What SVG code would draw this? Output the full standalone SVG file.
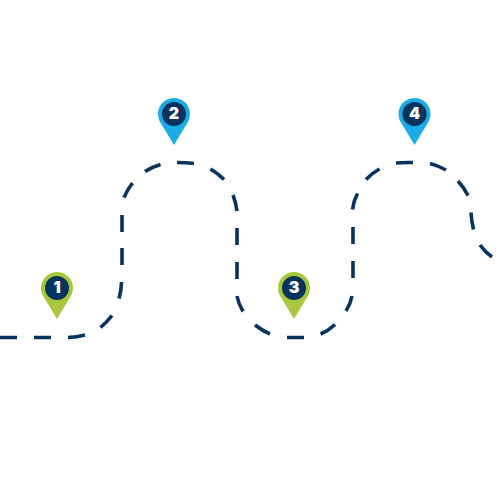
<svg xmlns="http://www.w3.org/2000/svg" width="500" height="500" viewBox="0 0 500 500">
<defs>
<style>
.road{fill:none;stroke:#07345f;stroke-width:3.6}
.dot{fill:#07345f}
.n{fill:#fff;font:900 16px Inter,"DejaVu Sans",sans-serif;text-anchor:middle}
.g{fill:#a9c73d}
.b{fill:#1bace6}
</style>
<path id="pin" d="M-13.700 8.260A16 16 0 1 1 13.700 8.260L0 31Z"/>
</defs>
<rect width="500" height="500" fill="#fff"/>
<g id="connectors">
<path class="road" d="M0 337.500H17M34 337.500H51M68 337.500Q77 337.200 85 335M100.500 327.500Q107 322 112 315.500M119 298.500Q121.300 291 121.500 282M122 265V248M122 232V215M124 197.500Q127 190 132.500 183M145 171.500Q152 167 160.500 164.500M177 162.500Q186 162.500 194 163.500M210.500 169Q218 173.500 224 179.500M233 195Q236 203 237 211M237 228V245M237 262V279M237 296Q238.500 304 243 311.500M255 325Q262 330.500 270 334M287 337.500H304M320.500 334Q328 331 335 324.500M346 311Q350.500 304 352 296M353 278V261M353 244V227M352.500 209.500Q353.500 201 357.500 193.500M366 179.500Q372 173 379.500 169M396 163Q404 162.300 413 162.500M430 163.500Q438 165.500 446 170M458 181Q464 187.500 468 195.500M471 212.500Q471.500 221 473.500 229.500M480 245Q485 252 492 257"/>
</g>
<g id="node-1" transform="translate(57 288)"><use href="#pin" class="g"/><circle class="dot" r="12"/><text class="n" y="5">1</text></g>
<g id="node-2" transform="translate(174 114)"><use href="#pin" class="b"/><circle class="dot" r="12"/><text class="n" y="5">2</text></g>
<g id="node-3" transform="translate(294 288)"><use href="#pin" class="g"/><circle class="dot" r="12"/><text class="n" y="5">3</text></g>
<g id="node-4" transform="translate(414.500 114)"><use href="#pin" class="b"/><circle class="dot" r="12"/><text class="n" y="5">4</text></g>
</svg>
